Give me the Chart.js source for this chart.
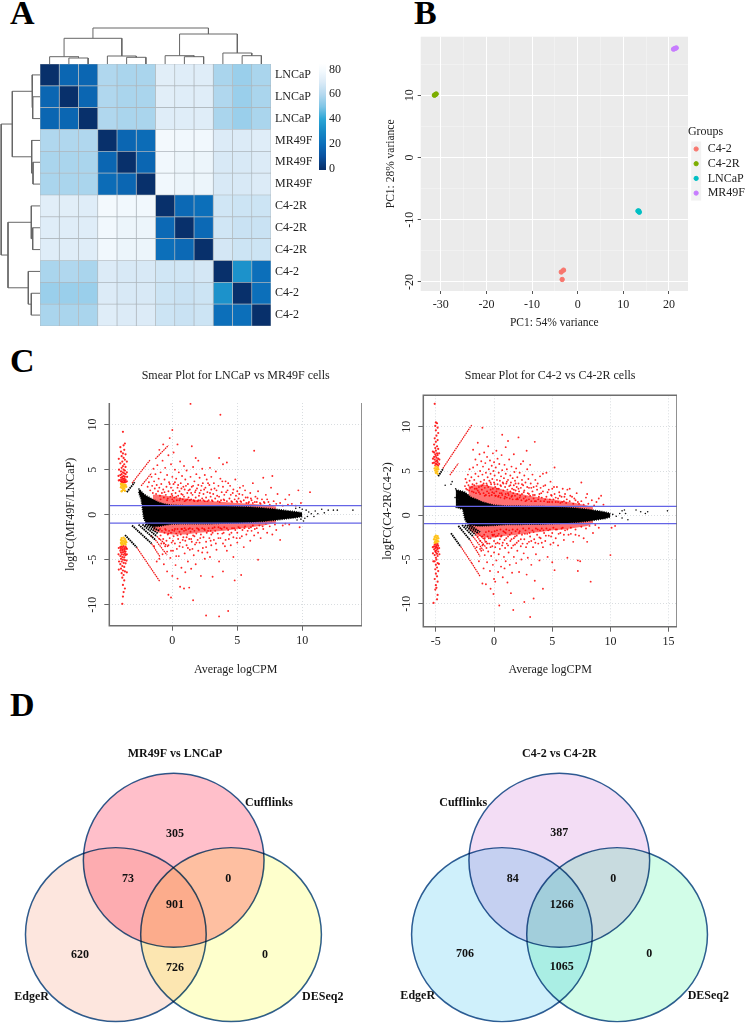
<!DOCTYPE html>
<html>
<head>
<meta charset="utf-8">
<title>Panels A-D</title>
<script src="https://cdn.jsdelivr.net/npm/chart.js@4"></script>
<style>
  html, body { margin: 0; padding: 0; background: #fff; overflow: hidden; }
  body { width: 745px; height: 1023px; position: relative; }
  canvas { position: absolute; }
  .letter { position: absolute; font: bold 34px/1 "Liberation Serif", serif; color: #000; }
</style>
</head>
<body>
<div class="letter" style="left:10px;top:-4px">A</div>
<div class="letter" style="left:414px;top:-4px">B</div>
<div class="letter" style="left:10px;top:344px">C</div>
<div class="letter" style="left:10px;top:688px">D</div>
<script>
// ---------- panel A data ----------
const sampleLabels = ["LNCaP","LNCaP","LNCaP","MR49F","MR49F","MR49F","C4-2R","C4-2R","C4-2R","C4-2","C4-2","C4-2"];
const distMatrix = [
  [0,17,17,59,58,58,72,71,71,58,55,58],
  [17,0,17,59,58,58,72,71,71,59,55,58],
  [17,17,0,59,58,58,71,71,71,58,55,58],
  [59,59,59,0,17,19,79,78,78,70,70,71],
  [58,58,58,17,0,17,78,76,76,69,69,70],
  [58,58,58,19,17,0,78,76,76,69,69,70],
  [72,72,71,79,78,78,0,18,20,67,66,66],
  [71,71,71,78,76,76,18,0,18,67,65,65],
  [71,71,71,78,76,76,20,18,0,68,66,66],
  [58,59,58,70,69,69,67,67,68,0,33,20],
  [55,55,55,70,69,69,66,65,66,33,0,20],
  [58,58,58,71,70,70,66,65,66,20,20,0]
];
const rampValues = [0,10,20,30,40,50,60,70,80,85];
const rampColors = ["#08306b","#0a52a0","#0c6fba","#1689c6","#2ba6d6","#7fc5e6","#b5d9ef","#dcebf7","#f6fbfe","#ffffff"];
const colorbarTicks = [0,20,40,60,80];
// dendrogram merges: [childA, heightA, childB, heightB, mergeHeight]
const topMerges = [
  [2,0,3,0,6],[1,0,2.5,6,7.3],[5,0,6,0,6.7],[4,0,5.5,6.7,8],[1.75,7.3,4.75,8,25.7],
  [8,0,9,0,7.3],[7,0,8.5,7.3,8.3],[11,0,12,0,8.3],[10,0,11.5,8.3,11],[7.75,8.3,10.75,11,30],
  [3.25,25.7,9.25,30,36]
];
const leftMerges = [
  [2,0,3,0,7.3],[1,0,2.5,7.3,8],[5,0,6,0,7],[4,0,5.5,7,8.3],[1.75,8,4.75,8.3,27.7],
  [8,0,9,0,7.3],[7,0,8.5,7.3,8.7],[11,0,12,0,8.7],[10,0,11.5,8.7,11.7],[7.75,8.7,10.75,11.7,32],
  [3.25,27.7,9.25,32,38.8]
];

// ---------- panel B data ----------
const pcaGroups = ["C4-2","C4-2R","LNCaP","MR49F"];
const pcaColors = ["#F8766D","#7CAE00","#00BFC4","#C77CFF"];
const pcaPoints = [
  [[-3.6,-18.4],[-3.1,-18.1],[-3.4,-19.6]],
  [[-31.4,10],[-31,10.2],[-31.2,10.1]],
  [[13.2,-8.6],[13.5,-8.8],[13.4,-8.6]],
  [[21,17.4],[21.3,17.5],[21.6,17.6]]
];
const pcaXTicks = [-30,-25,-20,-15,-10,-5,0,5,10,15,20];
const pcaYTicks = [-20,-15,-10,-5,0,5,10,15];

// ---------- panel C data, left smear ----------
const smearLeftRedUp = [[-1.9,3.1],[-1.8,3.6],[-1.7,2.7],[-1.6,4.2],[-1.55,3.2],[-1.5,2.4],[-1.45,5.1],[-1.4,3.7],[-1.35,2.9],[-1.3,4.5],[-1.25,2.3],[-1.2,3.3],[-1.15,5.5],[-1.1,2.6],[-1.05,4],[-1,7.2],[-1,3],
[-.95,2.1],[-.9,4.7],[-.85,3.4],[-.8,2.4],[-.75,6],[-.7,7.8],[-.7,2.8],[-.65,1.9],[-.6,3.9],[-.55,5.2],[-.5,2.2],[-.45,3.1],[-.4,4.4],[-.35,1.8],[-.3,6.6],[-.3,2.6],[-.25,3.6],[-.2,8.5],[-.15,2],[-.1,5.6],[-.1,3],[-.05,2.3],[0,9.4],[0,4.2],[0,1.7],
[.05,2.7],[.1,6.9],[.1,3.4],[.15,1.9],[.2,5],[.25,2.4],[.3,4],[.35,1.6],[.4,7.8],[.4,3],[.45,2.1],[.5,4.7],[.55,2.6],[.6,5.9],[.6,1.8],[.65,3.5],[.7,2.3],[.75,4.3],[.8,1.7],[.85,3.1],[.9,5.4],[.9,2],[.95,2.8],[1,3.9],
[1.05,1.6],[1.1,4.9],[1.15,2.4],[1.2,3.4],[1.25,1.9],[1.35,2.8],[1.4,12.3],[1.4,4.2],[1.45,1.7],[1.5,7.6],[1.5,3.1],[1.55,2.2],[1.6,5.3],[1.65,1.6],[1.7,3.7],[1.75,2.5],[1.8,6.3],[1.8,1.9],[1.85,4.5],[1.9,2.9],[1.95,1.5],[2,6],[2,3.3],
[2.05,2.1],[2.1,4.1],[2.15,1.6],[2.2,2.7],[2.3,5.1],[2.3,1.8],[2.35,3.5],[2.4,2.3],[2.5,4.4],[2.5,1.5],[2.55,3],[2.6,1.9],[2.65,3.9],[2.7,2.5],[2.8,1.6],[2.85,3.3],[2.9,5.2],[2.95,2],[3,4.2],[3,2.8],
[3.1,1.5],[3.15,2.3],[3.2,3.5],[3.3,1.8],[3.35,4.8],[3.4,2.7],[3.5,1.5],[3.55,3.2],[3.6,6.3],[3.6,2],[3.7,11.1],[3.7,4],[3.75,1.6],[3.8,2.5],[3.9,5.6],[3.9,3.1],[3.95,1.7],
[4,2.2],[4.1,3.7],[4.2,5.8],[4.2,1.5],[4.25,2.7],[4.4,1.8],[4.45,3.2],[4.5,2.2],[4.6,1.4],[4.7,2.8],[4.8,1.7],[4.85,3.9],[4.9,2.1],[5,1.4],[5,2.6],
[5.1,1.8],[5.2,3],[5.3,1.4],[5.4,2.2],[5.5,1.6],[5.6,2.7],[5.7,1.3],[5.8,1.9],[5.9,1.4],[6,2.4],[6.1,1.6],
[6.2,3.5],[6.3,7.1],[6.2,1.3],[6.4,2],[6.5,1.4],[6.6,2.6],[6.8,1.2],[6.9,1.7],[7,4.1],[7.1,1.3],[7.2,2.2],[7.4,1.4],[7.5,1.1],[7.6,3],[7.7,4.3],[7.8,1.5],[8,1.2],[8.1,2.3],
[8.3,1.3],[8.5,1],[8.7,1.7],[8.9,1.1],[9,2.2],[9.2,1.2],[9.5,1],[9.7,2.7],[9.9,1.3],[10.6,2.5],
[-.9,1.7],[-.6,2.5],[-.4,1.6],[-.2,3.4],[0,2.1],[.1,1.5],[.2,3.6],[.3,2],[.45,3.3],[.55,1.6],[.7,2.9],[.8,2.2],[.95,1.5],[1.05,3.2],[1.15,1.7],[1.25,2.7],[1.35,1.6],[1.45,2.4],[1.6,3.2],[1.7,1.5],[1.8,2.7],[2,1.6],[2.1,2.4],[2.25,3.2],[2.4,1.6],[2.45,2.8],[2.7,1.5],[2.75,3.5],[2.9,2.4],[3.05,1.6],[3.25,2.9],[3.45,2.1],[3.65,1.4],[3.85,3.7],[4,1.6],[4.15,2.5],[4.3,3.5],[4.55,1.5],[4.65,2.4],[4.95,1.5],[5.15,2.3],[5.25,1.5],[5.45,3.2],[5.65,1.9],[5.85,1.3],[6.05,1.8],[6.35,1.4],[6.55,1.8],[6.75,1.3],[7.05,1.4],[7.3,1.7]];
const smearLeftRedDown = [[-1.6,-2.4],[-1.4,-3.5],[-1.2,-5.2],[-1,-2.7],[-1,-4.9],
[-.9,-2.3],[-.85,-3.2],[-.8,-1.8],[-.75,-4.4],[-.7,-2.7],[-.65,-5.5],[-.6,-2],[-.55,-3.5],[-.5,-1.7],[-.45,-2.9],[-.4,-6.3],[-.4,-4.1],[-.35,-2.2],[-.3,-8.9],[-.3,-3.4],[-.25,-1.8],[-.2,-2.6],[-.15,-4.8],[-.1,-9.2],[-.1,-2],[-.05,-3.1],[0,-6.8],[0,-1.7],
[.05,-4],[.1,-2.4],[.15,-1.8],[.2,-3.2],[.25,-5.6],[.3,-2.1],[.35,-3.8],[.4,-1.6],[.4,-7.1],[.45,-2.7],[.5,-4.6],[.55,-1.9],[.6,-8],[.6,-3.1],[.65,-2.2],[.7,-5.9],[.75,-1.6],[.8,-3.6],[.85,-2.5],[.9,-8.2],[.9,-1.8],[.95,-4.3],[1,-2.9],[1,-6.4],
[1.05,-1.7],[1.1,-3.4],[1.15,-2.2],[1.2,-5.2],[1.25,-1.6],[1.3,-8.1],[1.3,-2.7],[1.35,-3.9],[1.4,-1.9],[1.45,-6],[1.5,-3],[1.55,-1.6],[1.6,-9.5],[1.6,-2.3],[1.65,-4.5],[1.7,-1.8],[1.75,-3.3],[1.8,-5.5],[1.85,-2.1],[1.9,-1.5],[1.95,-2.8],[2,-4],
[2.05,-1.7],[2.1,-3.1],[2.2,-6.8],[2.2,-2.2],[2.3,-1.5],[2.35,-3.7],[2.4,-2.5],[2.5,-4.9],[2.5,-1.7],[2.6,-11.2],[2.6,-3],[2.65,-2],[2.7,-4.2],[2.8,-1.5],[2.85,-2.6],[2.9,-4.7],[2.95,-1.8],[3,-3.4],[3,-2.2],
[3.1,-6.9],[3.1,-1.5],[3.2,-2.8],[3.3,-1.8],[3.4,-3.9],[3.5,-2.1],[3.55,-1.4],[3.6,-11.3],[3.6,-5.2],[3.7,-2.6],[3.8,-1.6],[3.9,-6.3],[3.9,-3.2],[3.95,-2],
[4,-1.4],[4.1,-2.8],[4.2,-4],[4.3,-10.7],[4.3,-1.7],[4.4,-2.2],[4.5,-3.4],[4.6,-1.5],[4.7,-4.7],[4.7,-2.5],[4.8,-7.3],[4.85,-1.7],[5,-3.1],[5,-2],
[5.1,-1.4],[5.2,-2.6],[5.3,-6.7],[5.4,-1.7],[5.5,-3.6],[5.6,-1.3],[5.7,-2.2],[5.9,-1.5],[6,-2.9],[6.1,-1.8],
[6.2,-1.2],[6.3,-2.3],[6.5,-1.5],[6.6,-5],[6.7,-1.2],[6.8,-2.6],[7,-1.6],[7.2,-1],[7.3,-2],[7.5,-1.3],[7.7,-2.2],[7.9,-1.1],[8,-1.7],[8.3,-2.8],[8.5,-1.2],[8.7,-1],[9,-1.1],[9.8,-1.4],
[-.95,-1.6],[-.65,-3.2],[-.55,-1.6],[-.3,-2.1],[-.1,-4],[.05,-2.9],[.2,-1.6],[.3,-4.6],[.4,-2.3],[.55,-3.5],[.7,-1.6],[.8,-2.8],[.95,-1.5],[1.1,-2.5],[1.2,-3.7],[1.35,-1.5],[1.45,-2.7],[1.55,-3.8],[1.7,-2.4],[1.85,-3.1],[2,-1.6],[2.15,-2.6],[2.3,-4.2],[2.45,-1.6],[2.6,-3.6],[2.75,-1.8],[2.95,-2.9],[3.1,-2],[3.25,-1.4],[3.35,-3.2],[3.55,-2.6],[3.7,-1.5],[3.85,-2.1],[4.05,-3.5],[4.2,-1.5],[4.35,-2.7],[4.55,-2],[4.75,-1.5],[4.95,-2.6],[5.2,-1.5],[5.35,-2.4],[5.55,-1.5],[5.8,-1.8],[6.05,-1.4],[6.35,-1.6],[6.6,-2],[6.95,-1.3]];
const smearLeftColumnRed = [[-3.8,9.2],[-3.65,7.9],[-3.75,7.7],[-4,7.5],[-3.7,7.2],[-3.95,7],[-3.8,6.8],[-3.6,6.7],[-3.9,6.5],[-3.75,6.3],[-3.65,6.1],[-3.85,5.9],[-4,5.7],[-3.7,5.6],[-3.8,5.4],[-3.6,5.3],[-3.9,5.2],[-3.75,5],[-3.65,4.9],[-3.95,4.8],[-3.8,4.7],[-3.7,4.6],[-3.6,4.5],[-3.9,4.5],[-4,4.4],[-3.75,4.3],[-3.85,4.2],[-3.65,4.2],[-3.95,4.1],[-3.7,4],[-3.8,4],[-3.6,3.9],[-3.9,3.9],[-4.03,3.85],[-3.75,3.8],[-3.65,3.75],[-3.85,3.7],[-3.95,3.7],[-3.7,3.6],[-3.6,3.6],[-3.8,3.55],[-3.9,3.5],
[-4.12,6.2],[-3.5,5.9],[-4.1,5],[-3.5,4.7],[-4.14,4.3],[-3.48,4.2],[-4.12,3.8],[-3.5,3.7],
[-3.9,-3.5],[-3.75,-3.5],[-3.6,-3.55],[-4,-3.6],[-3.85,-3.65],[-3.7,-3.7],[-3.55,-3.7],[-3.95,-3.8],[-3.8,-3.85],[-3.65,-3.85],[-4,-4],[-3.85,-4],[-3.7,-4.05],[-3.6,-4.1],[-3.95,-4.2],[-3.8,-4.2],[-3.65,-4.3],[-3.9,-4.4],[-3.75,-4.45],[-3.6,-4.5],[-4,-4.6],[-3.85,-4.7],[-3.7,-4.75],[-3.95,-4.9],[-3.8,-5],[-3.65,-5.05],[-3.9,-5.2],[-3.75,-5.35],[-3.6,-5.4],[-4,-5.5],[-3.85,-5.7],[-3.7,-5.8],[-3.95,-6],[-3.8,-6.2],[-3.65,-6.3],[-3.9,-6.5],[-3.75,-6.7],[-3.85,-7],[-3.7,-7.3],[-3.8,-7.8],[-3.65,-8.2],[-3.75,-8.6],[-3.8,-9.1],[-3.85,-9.9],
[-4.12,-3.7],[-3.5,-3.8],[-4.14,-4.4],[-3.5,-4.4],[-4.1,-5.2],[-3.52,-5.1],[-4.12,-6.1],[-3.5,-6.4]];
const smearLeftColumnGold = [[-3.95,3.4],[-3.85,3.4],[-3.7,3.35],[-3.6,3.3],[-3.9,3.25],[-3.8,3.2],[-3.65,3.15],[-3.75,3.1],[-3.55,3.1],[-3.95,3.05],[-3.85,2.95],[-3.7,2.9],[-3.8,2.75],[-3.9,2.6],[-3.65,2.65],
[-3.9,-2.6],[-3.75,-2.55],[-3.65,-2.7],[-3.95,-2.8],[-3.8,-2.85],[-3.6,-2.9],[-3.9,-3],[-3.7,-3],[-3.55,-3.05],[-3.85,-3.1],[-3.95,-3.15],[-3.65,-3.2],[-3.8,-3.25],[-3.6,-3.3],[-3.9,-3.35]];
const smearLeftFarBlack = [[9.5,.7],[9.6,-.6],[9.8,.8],[9.9,-.5],[10,.6],[10.1,-.7],[10.2,-.4],[10.3,.5],[10.4,-.2],[10.5,.3],[10.7,.1],[10.9,-.2],[11,.4],[11.2,.1],[11.5,.6],[11.7,.2],[12,.5],[12.4,.5],[12.7,.5],[13.9,.5]];
const smearLeftBandX = [-2.6,-2.4,-2.3,-2.2,-2,-1.5,-1,-.5,0,1,2,3,4,5,6,7,8,9,9.5,10];
const smearLeftBandUp = [2.9,2.6,2.45,2.3,2.1,1.7,1.35,1.15,1.05,1,1,1,.95,.92,.85,.75,.6,.42,.33,.2];
const smearLeftBandLow = [2.5,1.7,.6,-.4,-1.05,-1.35,-1.3,-1.15,-1.05,-1,-1,-1,-.95,-.92,-.85,-.75,-.6,-.42,-.33,-.2];
const smearLeftFuzzX = [-1.5,-1,0,1,2,3,4,5,6,7,8];
const smearLeftFuzzUp = [2.2,2.2,2,1.8,1.6,1.5,1.4,1.3,1.2,1.1,.9];
const smearLeftFuzzLow = [-1.7,-2,-2.2,-2.2,-2,-1.9,-1.8,-1.6,-1.4,-1.2,-.9];
const smearLeftBlackStreaks = [[-3.5,2.5,-2.9,3.6],[-3.64,-2.26,-2.74,-3.63],[-3.1,-1.2,-1.6,-3.2],[-2.6,-1.1,-1.3,-2.8],[-2.3,-1.1,-1.2,-2.4],[-2.1,-1.1,-1.1,-2.1],[-1.9,-1.1,-1,-1.8]];
const smearLeftRedStreaks = [[-3.1,3.5,-1.7,6.1],[-2.4,3.2,-1.6,4.6],[-1.3,6.2,-.3,7.7],[-2.74,-3.63,-.95,-7.44],[-1.6,-3.2,-.95,-4.67],[-1.3,-2.8,-.4,-4.5],[-1.2,-2.4,-.3,-3.6]];
const smearLeftXTicks = [0,5,10];
const smearLeftYTicks = [-10,-5,0,5,10];

// ---------- panel C data, right smear ----------
const smearRightRedUp = [[-2.5,3.3],[-2.45,4.1],[-2.4,3],[-2.35,3.7],[-2.3,2.9],[-2.25,4.6],[-2.2,3.4],[-2.15,2.8],[-2.1,5.2],[-2.1,3.9],[-2.05,3.1],
[-1.95,4.3],[-1.9,2.7],[-1.85,3.5],[-1.8,7.4],[-1.8,5.4],[-1.75,2.6],[-1.7,4],[-1.65,3],[-1.6,6.3],[-1.6,4.7],[-1.55,2.5],[-1.5,3.6],[-1.45,5.7],[-1.4,8.2],[-1.4,2.8],[-1.35,4.4],[-1.3,3.2],[-1.25,6.9],[-1.2,5],[-1.2,2.4],[-1.15,3.8],[-1.1,6.1],[-1.05,2.9],[-1,9.9],[-1,4.6],[-1,3.4],
[-.95,5.5],[-.9,2.5],[-.85,7.1],[-.85,4],[-.8,3.1],[-.75,5.9],[-.7,2.3],[-.7,4.8],[-.65,3.6],[-.6,6.6],[-.6,2.7],[-.55,4.3],[-.5,3.2],[-.5,7.8],[-.45,5.2],[-.4,2.2],[-.4,3.9],[-.35,6.2],[-.3,2.9],[-.3,4.7],[-.25,3.5],[-.2,5.6],[-.2,2.3],[-.15,4.1],[-.1,7],[-.1,3],[-.05,5],[0,2.5],[0,3.7],[0,6],
[.05,4.5],[.1,2.2],[.1,3.2],[.15,5.4],[.2,7.3],[.2,2.7],[.25,4],[.3,3.5],[.3,6.4],[.35,2.1],[.4,4.8],[.4,3],[.45,5.8],[.5,2.5],[.5,3.9],[.55,2],[.6,4.4],[.6,3.3],[.65,6.8],[.7,9.1],[.7,2.3],[.7,5.1],[.75,3.7],[.8,2.8],[.85,4.2],[.9,1.9],[.9,5.7],[.95,3.2],[1,2.4],[1,4.7],[1,7.7],
[1.05,3.6],[1.1,2],[1.1,5.2],[1.15,2.9],[1.2,8.4],[1.2,4],[1.25,2.3],[1.3,3.3],[1.3,6.3],[1.35,1.9],[1.4,4.5],[1.4,2.7],[1.45,3.7],[1.5,5.5],[1.5,2.1],[1.55,3],[1.6,4.2],[1.6,1.8],[1.65,2.5],[1.7,6.9],[1.7,3.4],[1.75,4.9],[1.8,2.2],[1.8,3.9],[1.85,2.8],[1.9,1.8],[1.9,5.3],[1.95,3.2],[2,2.4],[2,4.3],
[2.05,1.8],[2.1,8.8],[2.1,3.6],[2.15,2.7],[2.2,4.8],[2.2,2],[2.3,3.1],[2.3,5.8],[2.35,1.7],[2.4,4],[2.4,2.4],[2.5,3.4],[2.5,6.1],[2.55,1.9],[2.6,4.5],[2.6,2.8],[2.7,2.1],[2.7,3.7],[2.8,7.3],[2.8,1.7],[2.85,5.2],[2.9,2.5],[2.95,4.1],[3,3.1],[3,1.8],
[3.1,5.7],[3.1,2.2],[3.15,3.6],[3.2,1.6],[3.3,2.7],[3.3,4.6],[3.4,1.9],[3.4,3.2],[3.5,8.3],[3.5,2.3],[3.55,4],[3.6,1.6],[3.7,2.9],[3.75,3.6],[3.8,1.8],[3.9,2.4],[3.95,4.4],[4,1.6],[4,3.1],
[4.1,2],[4.2,4.7],[4.2,2.7],[4.3,1.6],[4.4,3.4],[4.5,4.8],[4.5,2.1],[4.6,1.5],[4.7,2.9],[4.8,1.8],[4.85,3.8],[4.9,2.3],[5,1.5],[5,3],
[5.1,1.8],[5.2,5.4],[5.2,2.4],[5.3,1.5],[5.4,3.2],[5.5,1.9],[5.6,2.6],[5.7,1.4],[5.8,2.1],[5.9,3],[6,1.6],
[6.1,2.4],[6.2,1.4],[6.3,2.9],[6.5,3],[6.5,1.6],[6.7,2.1],[6.8,1.3],[7,1.7],[7.1,2.5],[7.3,1.3],[7.5,3.7],[7.5,1.6],[7.7,1.2],[7.9,2],[8,2.4],[8.1,1.3],[8.4,1.7],[8.6,1.1],[8.8,1.5],[9,1.9],[9.2,2.2],[9.4,1.2],
[-1.9,3.2],[-1.7,3.4],[-1.5,3],[-1.3,2.6],[-1.1,3.3],[-.9,3.6],[-.8,2.2],[-.6,3.4],[-.45,2.5],[-.3,3.7],[-.15,2.6],[.05,3.5],[.15,2.2],[.25,3],[.4,2.2],[.55,3.4],[.65,2.5],[.8,3.6],[.95,2.1],[1.1,3.8],[1.2,2.5],[1.4,3.4],[1.55,2.2],[1.7,2.9],[1.85,3.6],[2,1.9],[2.1,3],[2.25,2.2],[2.4,3.5],[2.55,2.6],[2.7,1.6],[2.85,3.2],[3,2.4],[3.2,3.1],[3.35,2.3],[3.5,1.6],[3.65,3.3],[3.85,2.1],[4.05,2.5],[4.25,3.3],[4.4,1.8],[4.6,2.6],[4.75,1.5],[4.95,2.2],[5.15,3.2],[5.3,2],[5.5,1.5],[5.65,2.2],[5.85,1.5],[6.05,2.1],[6.25,1.8],[6.55,2.2],[6.9,1.9],[7.2,1.5]];
const smearRightRedDown = [[-1.5,-3.6],[-1.3,-5.2],[-1.2,-2.9],[-1.1,-4],[-1,-2.4],[-1,-7.7],
[-.95,-3.3],[-.9,-6],[-.85,-2.2],[-.8,-4.5],[-.75,-3],[-.7,-7.8],[-.7,-1.9],[-.65,-3.7],[-.6,-5.3],[-.55,-2.4],[-.5,-4.1],[-.45,-1.8],[-.4,-3.2],[-.35,-6.3],[-.3,-2.6],[-.3,-8.3],[-.25,-4.6],[-.2,-1.9],[-.15,-3.5],[-.1,-5.6],[-.1,-2.3],[-.05,-8.9],[0,-2.9],[0,-4.2],[0,-7.2],
[.05,-1.8],[.1,-3.6],[.1,-7.5],[.15,-2.4],[.2,-5.1],[.25,-1.7],[.3,-3.1],[.35,-6.4],[.4,-2.1],[.4,-4.4],[.45,-10.2],[.5,-2.7],[.5,-3.8],[.55,-1.6],[.6,-5.8],[.65,-2.3],[.7,-3.4],[.75,-7],[.8,-1.8],[.85,-4.7],[.9,-2.8],[.9,-6],[.95,-3.7],[1,-2],[1,-5.2],
[1.05,-1.6],[1.1,-3.2],[1.15,-7.6],[1.2,-2.4],[1.25,-4.2],[1.3,-1.7],[1.35,-5.6],[1.4,-2.9],[1.45,-8.8],[1.5,-3.7],[1.5,-2],[1.55,-6.5],[1.6,-1.6],[1.65,-10.7],[1.7,-2.6],[1.7,-4.7],[1.8,-3.3],[1.85,-1.8],[1.9,-5.4],[1.95,-2.3],[2,-4],[2,-1.6],
[2.1,-2.9],[2.15,-6.4],[2.2,-1.8],[2.3,-3.5],[2.35,-5],[2.4,-2.2],[2.5,-1.5],[2.55,-4.3],[2.6,-9.8],[2.6,-2.7],[2.7,-1.7],[2.75,-3.6],[2.8,-6.7],[2.85,-2.1],[2.9,-4.8],[3,-1.5],[3,-3],
[3.1,-11.5],[3.1,-2.4],[3.2,-5.6],[3.3,-1.7],[3.35,-3.6],[3.4,-9.4],[3.45,-2.7],[3.5,-7.4],[3.6,-1.5],[3.6,-4.4],[3.7,-2.2],[3.8,-3.2],[3.9,-5.1],[3.95,-1.7],[4,-2.6],
[4.1,-1.5],[4.2,-8.3],[4.2,-3.6],[4.3,-2],[4.4,-2.9],[4.5,-1.5],[4.6,-4.7],[4.7,-2.3],[4.8,-1.6],[4.85,-3.3],[5,-2],[5,-5.3],
[5.1,-1.4],[5.2,-6.2],[5.3,-2.6],[5.4,-1.6],[5.5,-3.4],[5.7,-2],[5.9,-1.4],[6,-2.8],[6.1,-1.7],[6.3,-4.8],[6.4,-2.2],[6.6,-1.4],[6.8,-3],[7,-1.6],
[7.2,-5.1],[7.2,-6.3],[7.3,-2.3],[7.4,-5.2],[7.5,-1.3],[7.7,-2.6],[7.9,-1.5],[8,-3],[8.3,-7.5],[8.2,-1.2],[8.5,-2],[8.7,-1.1],[9,-1.4],[10,-4.5],[10.1,-1.4],[10.4,-1.2],
[-1.4,-2.4],[-1.2,-3.8],[-1,-3.4],[-.8,-2.6],[-.6,-3.2],[-.45,-2.6],[-.3,-3.6],[-.15,-2.2],[0,-2.2],[.15,-3.2],[.3,-2.3],[.45,-3.2],[.6,-2.4],[.75,-3.1],[.9,-1.9],[1.05,-2.6],[1.2,-3.4],[1.35,-2.2],[1.5,-2.7],[1.65,-3.4],[1.8,-2.4],[1.95,-3.1],[2.15,-2],[2.3,-2.7],[2.45,-3.2],[2.65,-2.1],[2.85,-3.2],[3.05,-2],[3.2,-2.9],[3.4,-1.9],[3.55,-3.1],[3.75,-1.6],[3.9,-2.5],[4.1,-3.1],[4.25,-1.7],[4.45,-2.3],[4.65,-1.7],[4.9,-2.4],[5.1,-3.1],[5.3,-1.6],[5.55,-2.1],[5.8,-1.5],[6,-2.2],[6.3,-1.6],[6.6,-2.1],[7,-2.2]];
const smearRightColumnRed = [[-5.1,12.6],[-5,10.5],[-4.9,10.4],[-5.05,10.1],[-4.85,9.9],[-5,9.6],[-4.8,9.3],[-4.95,9],[-5.1,8.7],[-4.85,8.5],[-5,8.3],[-5.15,8],[-4.9,7.8],[-5.05,7.6],[-4.8,7.5],[-5,7.3],[-5.15,7.1],[-4.9,7],[-5.05,6.9],[-4.85,6.8],[-5,6.7],[-5.15,6.6],[-4.95,6.5],[-4.8,6.4],[-5.1,6.3],[-4.9,6.2],[-5,6.1],[-4.85,6],[-5.15,5.95],[-5,5.85],[-4.9,5.75],[-5.05,5.65],[-4.8,5.6],
[-5.26,7.2],[-4.72,7],[-5.25,6.4],[-4.7,6.3],[-5.27,5.9],[-4.72,5.8],
[-5,-3.2],[-4.85,-3.25],[-5.1,-3.3],[-4.95,-3.4],[-4.8,-3.45],[-5.15,-3.5],[-5,-3.55],[-4.9,-3.65],[-5.05,-3.7],[-4.85,-3.8],[-5.15,-3.85],[-4.95,-3.95],[-5.05,-4.05],[-4.8,-4.1],[-5,-4.2],[-4.9,-4.35],[-5.1,-4.5],[-4.85,-4.6],[-5,-4.8],[-4.95,-5],[-5.1,-5.2],[-4.85,-5.4],[-5,-5.6],[-4.9,-5.9],[-5.05,-6.1],[-4.8,-6.3],[-5,-6.6],[-4.9,-6.9],[-5.1,-7.2],[-4.85,-7.5],[-5,-7.9],[-4.95,-8.2],[-5.05,-8.4],[-4.85,-9],[-4.9,-9.5],[-5.2,-9.9],
[-5.26,-3.6],[-4.72,-3.7],[-5.25,-4.3],[-4.7,-4.4],[-5.22,-5.2],[-4.74,-5.5]];
const smearRightColumnGold = [[-5,5.5],[-4.85,5.4],[-5.1,5.3],[-4.95,5.2],[-4.8,5.2],[-5.05,5.05],[-4.9,4.95],[-5,4.8],[-4.85,4.7],
[-5,-2.3],[-4.85,-2.35],[-5.1,-2.45],[-4.95,-2.55],[-4.8,-2.6],[-5.15,-2.7],[-5,-2.75],[-4.9,-2.85],[-5.05,-2.95],[-4.8,-2.95],[-4.95,-3.05],[-5.1,-3.1]];
const smearRightFarBlack = [[10.2,.1],[10.5,-.1],[10.8,.2],[11,.5],[11,-.3],[11.2,.6],[11.5,-.5],[11.3,.2],[12.2,.6],[12.6,.4],[13,.2],[13.2,.4],[14.9,.5],[-4.2,3.4],[-3.7,3.5],[-3.6,3.8],[-3.3,3],[-3.2,2.5],[-3.35,2],[-3.1,1.8],[-3.2,1.3]];
const smearRightBandX = [-3.3,-3,-2.7,-2.5,-2.3,-2,-1.5,-1,0,1,2,3,4,5,6,7,8,9,9.5,10];
const smearRightBandUp = [2.9,2.8,2.7,2.6,2.4,2.05,1.8,1.5,1.15,1.05,1.05,1,1,.95,.9,.82,.68,.48,.38,.2];
const smearRightBandLow = [.9,.8,.7,-.5,-.95,-1.1,-1.2,-1.2,-1.15,-1.05,-1.05,-1,-1,-.95,-.9,-.82,-.68,-.48,-.38,-.2];
const smearRightFuzzX = [-2.2,-1.5,-1,0,1,2,3,4,5,6,7,8,8.5];
const smearRightFuzzUp = [3.3,3.4,3.5,3.2,2.8,2.5,2.2,2,1.8,1.6,1.4,1.1,.9];
const smearRightFuzzLow = [-1.6,-2.2,-2.5,-2.5,-2.3,-2.2,-2,-1.9,-1.7,-1.6,-1.4,-1.2,-.9];
const smearRightBlackStreaks = [[-4.8,4.4,-4.36,5.3],[-3.7,-2.03,-2.87,-3.53],[-3.07,-1.2,-2.07,-2.78],[-2.75,-1.1,-1.8,-2.4],[-2.5,-1.1,-1.6,-2.2],[-2.3,-1.1,-1.4,-2],[-2.1,-1.1,-1.2,-1.9]];
const smearRightRedStreaks = [[-4.4,5.3,-1.92,10.2],[-3.8,4.55,-3.07,5.86],[-2.87,-3.53,-1.92,-5.4],[-1.92,-5.4,-1.2,-6.9],[-2.07,-2.78,-1.2,-4.66],[-1.8,-2.4,-.9,-4],[-1.6,-2.2,-.7,-3.6],[-1.4,-2,-.5,-3.2]];
const smearRightXTicks = [-5,0,5,10,15];
const smearRightYTicks = [-10,-5,0,5,10];

// ---------- panel D data ----------
const vennLeftCenters = [[0,.458],[-.643,-.4],[.637,-.4]];
const vennLeftFills = ["#ffbfca","#fde6de","#feffcc"];
const vennLeftText = ["MR49F vs LNCaP","Cufflinks","305","73","0","901","620","0","726","EdgeR","DESeq2"];
const vennLeftTextX = [.014,1.059,.014,-.508,.607,.014,-1.041,1.014,.014,-1.578,1.656];
const vennLeftTextY = [1.622,1.078,.733,.23,.23,-.056,-.611,-.611,-.752,-1.081,-1.081];
const vennRightCenters = [[0,.458],[-.637,-.4],[.642,-.4]];
const vennRightFills = ["#f3ddf5","#cff0fb","#d2fde8"];
const vennRightText = ["C4-2 vs C4-2R","Cufflinks","387","84","0","1266","706","0","1065","EdgeR","DESeq2"];
const vennRightTextX = [0,-1.067,0,-.518,.6,.027,-1.048,1,.027,-1.573,1.656];
const vennRightTextY = [1.622,1.081,.741,.233,.233,-.056,-.6,-.6,-.748,-1.07,-1.07];

// ---------- shared setup ----------
Chart.defaults.font.family = '"Liberation Serif", serif';
Chart.defaults.font.size = 12;
Chart.defaults.color = "#222";
Chart.defaults.animation = false;
Chart.defaults.responsive = false;
Chart.defaults.layout.autoPadding = false;
Chart.defaults.plugins.legend.display = false;
Chart.defaults.plugins.tooltip.enabled = false;
Chart.defaults.events = [];

function place(left, top, w, h) {
  const c = document.createElement("canvas");
  c.width = w; c.height = h;
  c.style.left = left + "px"; c.style.top = top + "px";
  c.style.width = w + "px"; c.style.height = h + "px";
  document.body.appendChild(c);
  return c;
}
function useTicks(values) {
  return function(scale) { scale.ticks = values.map(v => ({ value: v })); };
}
// the plot box must land on exact pixels, so drop the room kept for end labels
function noMargins(s) {
  s.paddingTop = 0; s.paddingBottom = 0; s.paddingLeft = 0; s.paddingRight = 0;
}
function hexToRgb(h) {
  return [1,3,5].map(i => parseInt(h.slice(i, i + 2), 16));
}
function rampColor(v) {
  let i = 0;
  while (i < rampValues.length - 2 && v > rampValues[i + 1]) i++;
  const t = (v - rampValues[i]) / (rampValues[i + 1] - rampValues[i]);
  const a = hexToRgb(rampColors[i]), b = hexToRgb(rampColors[i + 1]);
  return "rgb(" + a.map((c, k) => Math.round(c + (b[k] - c) * t)).join(",") + ")";
}

// ---------- panel A ----------
new Chart(place(40, 64, 290, 262), {
  type: "bar",
  data: {
    labels: sampleLabels,
    datasets: sampleLabels.map((s, col) => ({
      data: sampleLabels.map(() => 1),
      backgroundColor: distMatrix.map(row => rampColor(row[col])),
      borderColor: "#aeb6bc",
      borderWidth: .7,
      borderSkipped: false,
      barPercentage: 1,
      categoryPercentage: 1
    }))
  },
  options: {
    indexAxis: "y",
    layout: { padding: 0 },
    scales: {
      x: { stacked: true, min: 0, max: 12, display: false },
      y: {
        stacked: true, position: "right",
        afterFit(s) { s.width = 59; noMargins(s); },
        grid: { display: false, drawTicks: false }, border: { display: false },
        ticks: { padding: 4, color: "#222" }
      }
    }
  }
});

function dendroDatasets(merges, horizontal) {
  return merges.map(m => {
    const pts = [[m[0], m[1]], [m[0], m[4]], [m[2], m[4]], [m[2], m[3]]];
    return {
      data: horizontal ? pts.map(p => [p[1], p[0]]) : pts,
      showLine: true, pointRadius: 0, borderColor: "#666", borderWidth: 1, clip: false
    };
  });
}
new Chart(place(40, 26, 231, 38), {
  type: "scatter",
  data: { datasets: dendroDatasets(topMerges, false) },
  options: { scales: { x: { display: false, min: .5, max: 12.5 }, y: { display: false, min: 0, max: 38 } } }
});
new Chart(place(0, 64, 40, 262), {
  type: "scatter",
  data: { datasets: dendroDatasets(leftMerges, true) },
  options: { scales: { x: { display: false, reverse: true, min: 0, max: 40 }, y: { display: false, reverse: true, min: .5, max: 12.5 } } }
});
new Chart(place(319, 56, 50, 122), {
  type: "bar",
  data: {
    labels: ["key"],
    datasets: [{
      data: [[-1, 84.4]],
      barPercentage: 1, categoryPercentage: 1,
      backgroundColor(ctx) {
        const a = ctx.chart.chartArea;
        if (!a) return "#fff";
        const g = ctx.chart.ctx.createLinearGradient(0, ctx.chart.scales.y.getPixelForValue(0), 0, ctx.chart.scales.y.getPixelForValue(85));
        rampValues.forEach(v => g.addColorStop(v / 85, rampColor(v)));
        return g;
      }
    }]
  },
  options: {
    layout: { padding: { top: 8, bottom: 8 } },
    scales: {
      x: { display: false },
      y: {
        position: "right", min: -1, max: 84.4,
        afterBuildTicks: useTicks(colorbarTicks),
        afterFit(s) { s.width = 43; noMargins(s); },
        grid: { display: false, drawTicks: false }, border: { display: false },
        ticks: { padding: 3 }
      }
    }
  }
});

// ---------- panel B ----------
const keyBackground = {
  id: "keyBackground",
  beforeDraw(chart) {
    const boxes = chart.legend.legendHitBoxes, c = chart.ctx;
    c.save();
    c.fillStyle = "#f2f2f2";
    boxes.forEach(b => c.fillRect(b.left + .5, b.top - 1.5, 10, b.height + 3));
    c.restore();
  }
};
function pcaAxis(size, ticks, min, max, label, isY) {
  return {
    min, max,
    afterBuildTicks: useTicks(ticks),
    afterFit(s) { if (isY) s.width = size; else s.height = size; noMargins(s); },
    title: { display: true, text: label, padding: 0, font: { size: 11.5 }, color: "#222" },
    border: { display: false },
    grid: {
      color: ctx => ctx.tick && ctx.tick.value % 10 === 0 ? "#ffffff" : "rgba(255,255,255,.55)",
      lineWidth: ctx => ctx.tick && ctx.tick.value % 10 === 0 ? 1 : .6,
      tickColor: ctx => ctx.tick && ctx.tick.value % 10 === 0 ? "#555" : "rgba(0,0,0,0)",
      tickLength: 3
    },
    ticks: Object.assign({
      autoSkip: false, padding: isY ? 0 : 4, color: "#222",
      callback: v => v % 10 === 0 ? String(v) : ""
    }, isY ? { minRotation: 90, maxRotation: 90, crossAlign: "center" } : {})
  };
}
new Chart(place(384, 30, 371, 300), {
  type: "scatter",
  data: {
    datasets: pcaGroups.map((g, i) => ({
      label: g, data: pcaPoints[i],
      backgroundColor: pcaColors[i], borderColor: pcaColors[i],
      pointRadius: 2.2, pointStyle: "circle"
    }))
  },
  options: {
    layout: { padding: { top: 6.7 } },
    plugins: {
      legend: {
        display: true, position: "right", align: "center", fullSize: false,
        title: { display: true, text: "Groups", position: "start", padding: { top: 0, bottom: 0 }, font: { size: 12 } },
        labels: { usePointStyle: true, boxWidth: 11, boxHeight: 3, padding: 2.7, color: "#222", font: { size: 12 } }
      }
    },
    scales: {
      x: pcaAxis(39, pcaXTicks, -34.4, 24.16, "PC1: 54% variance", false),
      y: pcaAxis(36.7, pcaYTicks, -21.45, 19.4, "PC1: 28% variance", true)
    }
  },
  plugins: [{
    id: "panelBackground",
    beforeDraw(chart) {
      const a = chart.chartArea, c = chart.ctx;
      c.save(); c.fillStyle = "#ebebeb";
      c.fillRect(a.left, a.top, a.right - a.left, a.bottom - a.top);
      c.restore();
    }
  }, keyBackground]
});

// ---------- panel C ----------
const plotFrame = {
  id: "plotFrame",
  afterDatasetsDraw(chart, args, opts) {
    const a = chart.chartArea, c = chart.ctx;
    c.save();
    c.strokeStyle = "#6e6e6e"; c.lineWidth = 1.5;
    c.beginPath();
    c.moveTo(a.left, a.top); c.lineTo(a.left, a.bottom); c.lineTo(a.right, a.bottom); c.lineTo(a.right, a.top);
    if (opts.closed) c.closePath();
    c.stroke();
    c.restore();
  }
};
function bandDatasets(xs, up, low, color, edge) {
  const line = arr => ({
    data: xs.map((x, i) => [x, arr[i]]),
    showLine: true, pointRadius: 0, borderWidth: edge, borderDash: [1, 1.2], borderColor: color, backgroundColor: color
  });
  return [Object.assign(line(up), { fill: "+1" }), line(low)];
}
function pointSet(list, color, r) {
  return { data: list, pointRadius: r, backgroundColor: color, borderWidth: 0, pointBorderWidth: 0 };
}
function streaks(list, color, w) {
  return list.map(s => ({
    data: [[s[0], s[1]], [s[2], s[3]]],
    showLine: true, pointRadius: 0, borderColor: color, borderWidth: w, borderDash: [1.6, .7]
  }));
}
function smearChart(canvas, o) {
  const blue = "#6464e6";
  const datasets = [
    { data: [[o.xMin, 1], [o.xMax, 1]], showLine: true, pointRadius: 0, borderColor: blue, borderWidth: 1.2 },
    { data: [[o.xMin, -.95], [o.xMax, -.95]], showLine: true, pointRadius: 0, borderColor: blue, borderWidth: 1.2 },
    pointSet(o.gold, "#ffc21a", 1.2),
    ...streaks(o.blackStreaks, "#000", 1.8),
    ...streaks(o.redStreaks, "#f01010", 1.2),
    pointSet(o.far, "#111", .8),
    ...bandDatasets(o.bandX, o.bandUp, o.bandLow, "#000", 1.5),
    pointSet(o.column, "rgba(255,0,0,.85)", 1.1),
    pointSet(o.up, "rgba(255,0,0,.85)", .95),
    pointSet(o.down, "rgba(255,0,0,.85)", .95),
    ...bandDatasets(o.fuzzX, o.fuzzUp, o.fuzzLow, "rgba(255,20,20,.6)", 0)
  ];
  const dotted = {
    color: "#d9dde0", tickColor: "#666", tickLength: 5, tickBorderDash: []
  };
  return new Chart(canvas, {
    type: "scatter",
    data: { datasets },
    options: {
      plugins: {
        plotFrame: { closed: o.closed },
        title: {
          display: true, text: o.title, fullSize: false, color: "#222",
          font: { size: 12, weight: "normal" },
          padding: { top: o.titleTop, bottom: o.titleBottom }
        }
      },
      scales: {
        x: {
          min: o.xMin, max: o.xMax,
          afterBuildTicks: useTicks(o.xTicks),
          afterFit(s) { s.height = o.axisH; noMargins(s); },
          title: { display: true, text: "Average logCPM", padding: 0, color: "#222" },
          border: { display: false, dash: [1, 2] }, grid: dotted,
          ticks: { padding: 3, autoSkip: false, maxRotation: 0, color: "#222" }
        },
        y: {
          min: o.yMin, max: o.yMax,
          afterBuildTicks: useTicks(o.yTicks),
          afterFit(s) { s.width = o.axisW; noMargins(s); },
          title: { display: true, text: o.yTitle, padding: 0, color: "#222" },
          border: { display: false, dash: [1, 2] }, grid: dotted,
          ticks: { padding: 3, autoSkip: false, minRotation: 90, maxRotation: 90, crossAlign: "center", color: "#222" }
        }
      }
    },
    plugins: [plotFrame]
  });
}
smearChart(place(64, 365, 298, 312), {
  title: "Smear Plot for LNCaP vs MR49F cells", yTitle: "logFC(MF49F/LNCaP)", closed: false,
  titleTop: 4, titleBottom: 19.6, axisW: 45.3, axisH: 51.3,
  xMin: -4.85, xMax: 14.6, yMin: -12.33, yMax: 12.4,
  xTicks: smearLeftXTicks, yTicks: smearLeftYTicks,
  up: smearLeftRedUp, down: smearLeftRedDown, column: smearLeftColumnRed, gold: smearLeftColumnGold, far: smearLeftFarBlack,
  bandX: smearLeftBandX, bandUp: smearLeftBandUp, bandLow: smearLeftBandLow,
  fuzzX: smearLeftFuzzX, fuzzUp: smearLeftFuzzUp, fuzzLow: smearLeftFuzzLow,
  blackStreaks: smearLeftBlackStreaks, redStreaks: smearLeftRedStreaks
});
smearChart(place(381, 365, 296, 312), {
  title: "Smear Plot for C4-2 vs C4-2R cells", yTitle: "logFC(C4-2R/C4-2)", closed: true,
  titleTop: 4, titleBottom: 11.9, axisW: 42.3, axisH: 50.3,
  xMin: -6.08, xMax: 15.72, yMin: -12.59, yMax: 13.56,
  xTicks: smearRightXTicks, yTicks: smearRightYTicks,
  up: smearRightRedUp, down: smearRightRedDown, column: smearRightColumnRed, gold: smearRightColumnGold, far: smearRightFarBlack,
  bandX: smearRightBandX, bandUp: smearRightBandUp, bandLow: smearRightBandLow,
  fuzzX: smearRightFuzzX, fuzzUp: smearRightFuzzUp, fuzzLow: smearRightFuzzLow,
  blackStreaks: smearRightBlackStreaks, redStreaks: smearRightRedStreaks
});

// ---------- panel D ----------
const vennSquash = .9625;
const multiplyFill = {
  id: "multiplyFill",
  beforeDatasetDraw(chart) {
    const c = chart.ctx, oy = chart.scales.y.getPixelForValue(0);
    c.save();
    c.globalCompositeOperation = "multiply";
    c.translate(0, oy); c.scale(1, vennSquash); c.translate(0, -oy);
  },
  afterDatasetDraw(chart) { chart.ctx.restore(); }
};
const vennLabels = {
  id: "vennLabels",
  afterDraw(chart, args, opts) {
    const c = chart.ctx;
    c.save();
    c.font = 'bold 12px "Liberation Serif"';
    c.fillStyle = "#111"; c.textAlign = "center"; c.textBaseline = "middle";
    opts.text.forEach((t, i) => {
      c.fillText(t, chart.scales.x.getPixelForValue(opts.x[i]), chart.scales.y.getPixelForValue(opts.y[i]));
    });
    c.restore();
  }
};
function vennChart(canvas, centers, fills, text, tx, ty, xMin, xMax) {
  return new Chart(canvas, {
    type: "scatter",
    data: {
      datasets: centers.map((c, i) => ({
        data: [c], clip: false,
        backgroundColor: fills[i], borderColor: "#2f5f95", borderWidth: 1.5,
        pointRadius(ctx) {
          const x = ctx.chart.scales.x;
          return x.getPixelForValue(1.004) - x.getPixelForValue(0);
        }
      }))
    },
    options: {
      plugins: { vennLabels: { text, x: tx, y: ty } },
      scales: {
        x: { display: false, min: xMin, max: xMax },
        y: { display: false, min: -1.367, max: 2.222 }
      }
    },
    plugins: [multiplyFill, vennLabels]
  });
}
vennChart(place(0, 700, 370, 323), vennLeftCenters, vennLeftFills, vennLeftText, vennLeftTextX, vennLeftTextY, -1.93, 2.181);
vennChart(place(370, 700, 375, 323), vennRightCenters, vennRightFills, vennRightText, vennRightTextX, vennRightTextY, -2.103, 2.063);
</script>
</body>
</html>
